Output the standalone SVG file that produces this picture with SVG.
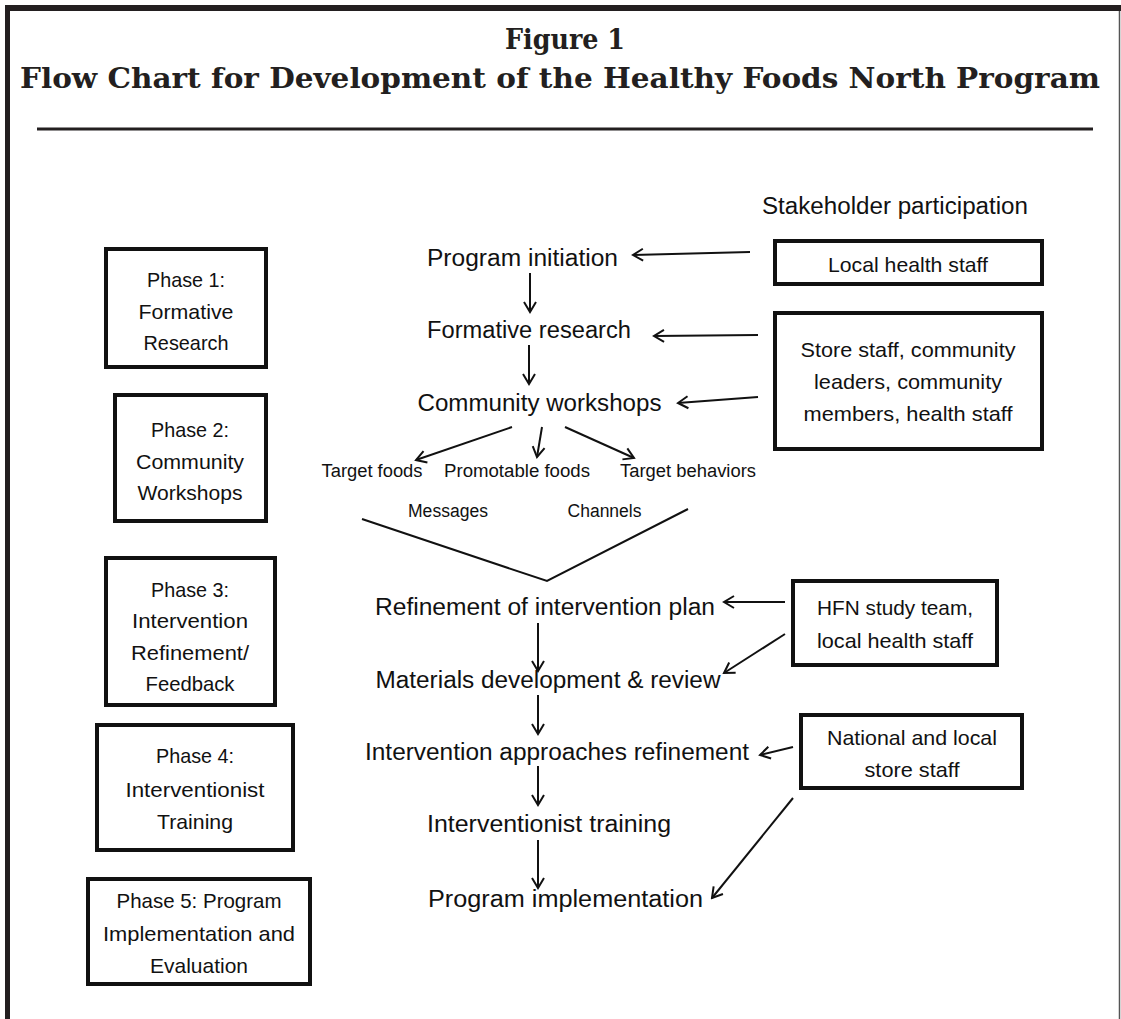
<svg xmlns="http://www.w3.org/2000/svg" width="1121" height="1019" viewBox="0 0 1121 1019">
<style>
  .t { font-family: "Liberation Sans", Arial, sans-serif; fill: #111; text-anchor: middle; }
  .main { font-size: 23px; }
  .ph { font-size: 20.8px; }
  .sm { font-size: 18px; }
  .ttl { font-family: "DejaVu Serif", "Liberation Serif", serif; font-weight: bold; font-size: 27px; fill: #231f20; text-anchor: middle; }
  .box { fill: #fff; stroke: #111; stroke-width: 4; }
  .arr { stroke: #111; stroke-width: 2; fill: none; marker-end: url(#ah); }
  .ln { stroke: #111; stroke-width: 2; fill: none; }
</style>
<defs>
  <marker id="ah" markerUnits="userSpaceOnUse" viewBox="-12 -8 14 16" markerWidth="14" markerHeight="16" refX="0" refY="0" orient="auto">
    <path d="M-10,-6 L0,0 L-10,6" fill="none" stroke="#111" stroke-width="2"/>
  </marker>
</defs>
<rect width="1121" height="1019" fill="#fff"/>
<g id="frame">
  <line x1="5" y1="8" x2="1121" y2="8" stroke="#231f20" stroke-width="6"/>
  <line x1="7.5" y1="5" x2="7.5" y2="1019" stroke="#231f20" stroke-width="5"/>
  <line x1="1119.5" y1="11" x2="1119.5" y2="1019" stroke="#555" stroke-width="1.5"/>
  <line x1="37" y1="129" x2="1093" y2="129" stroke="#231f20" stroke-width="3"/>
</g>
<g id="title">
  <text class="ttl" x="565" y="49" textLength="120" lengthAdjust="spacingAndGlyphs">Figure 1</text>
  <text class="ttl" x="560" y="88" textLength="1080" lengthAdjust="spacingAndGlyphs">Flow Chart for Development of the Healthy Foods North Program</text>
</g>

<g id="phase1">
  <rect class="box" x="106" y="249" width="160" height="118"/>
  <text class="t ph" x="186" y="287" textLength="78" lengthAdjust="spacingAndGlyphs">Phase 1:</text>
  <text class="t ph" x="186" y="318.5" textLength="95" lengthAdjust="spacingAndGlyphs">Formative</text>
  <text class="t ph" x="186" y="350" textLength="85" lengthAdjust="spacingAndGlyphs">Research</text>
</g>
<g id="phase2">
  <rect class="box" x="115" y="395" width="151" height="126"/>
  <text class="t ph" x="190" y="437" textLength="78" lengthAdjust="spacingAndGlyphs">Phase 2:</text>
  <text class="t ph" x="190" y="468.5" textLength="108" lengthAdjust="spacingAndGlyphs">Community</text>
  <text class="t ph" x="190" y="500" textLength="105" lengthAdjust="spacingAndGlyphs">Workshops</text>
</g>
<g id="phase3">
  <rect class="box" x="106" y="558" width="169" height="147"/>
  <text class="t ph" x="190" y="596.5" textLength="78" lengthAdjust="spacingAndGlyphs">Phase 3:</text>
  <text class="t ph" x="190" y="628" textLength="116" lengthAdjust="spacingAndGlyphs">Intervention</text>
  <text class="t ph" x="190" y="659.5" textLength="118" lengthAdjust="spacingAndGlyphs">Refinement/</text>
  <text class="t ph" x="190" y="691" textLength="89" lengthAdjust="spacingAndGlyphs">Feedback</text>
</g>
<g id="phase4">
  <rect class="box" x="97" y="725" width="196" height="125"/>
  <text class="t ph" x="195" y="763" textLength="78" lengthAdjust="spacingAndGlyphs">Phase 4:</text>
  <text class="t ph" x="195" y="796.5" textLength="139" lengthAdjust="spacingAndGlyphs">Interventionist</text>
  <text class="t ph" x="195" y="829" textLength="76" lengthAdjust="spacingAndGlyphs">Training</text>
</g>
<g id="phase5">
  <rect class="box" x="88" y="879" width="222" height="105"/>
  <text class="t ph" x="199" y="908" textLength="165" lengthAdjust="spacingAndGlyphs">Phase 5: Program</text>
  <text class="t ph" x="199" y="941" textLength="192" lengthAdjust="spacingAndGlyphs">Implementation and</text>
  <text class="t ph" x="199" y="973" textLength="98" lengthAdjust="spacingAndGlyphs">Evaluation</text>
</g>

<g id="stakeholder-heading">
  <text class="t main" x="895" y="214" textLength="266" lengthAdjust="spacingAndGlyphs">Stakeholder participation</text>
</g>
<g id="local-health-staff">
  <rect class="box" x="775" y="241" width="267" height="43"/>
  <text class="t ph" x="908" y="272" textLength="160" lengthAdjust="spacingAndGlyphs">Local health staff</text>
</g>
<g id="community-stakeholders">
  <rect class="box" x="775" y="313" width="267" height="136"/>
  <text class="t ph" x="908" y="357" textLength="215" lengthAdjust="spacingAndGlyphs">Store staff, community</text>
  <text class="t ph" x="908" y="389" textLength="188" lengthAdjust="spacingAndGlyphs">leaders, community</text>
  <text class="t ph" x="908" y="421" textLength="209" lengthAdjust="spacingAndGlyphs">members, health staff</text>
</g>
<g id="hfn-team">
  <rect class="box" x="793" y="581" width="204" height="84"/>
  <text class="t ph" x="895" y="615" textLength="156" lengthAdjust="spacingAndGlyphs">HFN study team,</text>
  <text class="t ph" x="895" y="648" textLength="156" lengthAdjust="spacingAndGlyphs">local health staff</text>
</g>
<g id="store-staff">
  <rect class="box" x="801" y="715" width="221" height="73"/>
  <text class="t ph" x="912" y="745" textLength="170" lengthAdjust="spacingAndGlyphs">National and local</text>
  <text class="t ph" x="912" y="777" textLength="95" lengthAdjust="spacingAndGlyphs">store staff</text>
</g>

<g id="program-initiation"><text class="t main" x="522.5" y="266" textLength="191" lengthAdjust="spacingAndGlyphs">Program initiation</text></g>
<g id="formative-research"><text class="t main" x="529" y="338" textLength="204" lengthAdjust="spacingAndGlyphs">Formative research</text></g>
<g id="community-workshops"><text class="t main" x="539.5" y="411" textLength="244" lengthAdjust="spacingAndGlyphs">Community workshops</text></g>
<g id="target-foods"><text class="t sm" x="372" y="477" textLength="101" lengthAdjust="spacingAndGlyphs">Target foods</text></g>
<g id="promotable-foods"><text class="t sm" x="517" y="477" textLength="146" lengthAdjust="spacingAndGlyphs">Promotable foods</text></g>
<g id="target-behaviors"><text class="t sm" x="688" y="477" textLength="136" lengthAdjust="spacingAndGlyphs">Target behaviors</text></g>
<g id="messages"><text class="t sm" x="448" y="517" textLength="80" lengthAdjust="spacingAndGlyphs">Messages</text></g>
<g id="channels"><text class="t sm" x="604.5" y="517" textLength="74" lengthAdjust="spacingAndGlyphs">Channels</text></g>
<g id="refinement-plan"><text class="t main" x="545" y="615" textLength="340" lengthAdjust="spacingAndGlyphs">Refinement of intervention plan</text></g>
<g id="materials-development"><text class="t main" x="548" y="688" textLength="345" lengthAdjust="spacingAndGlyphs">Materials development &amp; review</text></g>
<g id="approaches-refinement"><text class="t main" x="557" y="760" textLength="384" lengthAdjust="spacingAndGlyphs">Intervention approaches refinement</text></g>
<g id="interventionist-training"><text class="t main" x="549" y="832" textLength="244" lengthAdjust="spacingAndGlyphs">Interventionist training</text></g>
<g id="program-implementation"><text class="t main" x="565.5" y="907" textLength="275" lengthAdjust="spacingAndGlyphs">Program implementation</text></g>

<g id="connectors">
  <line class="arr" x1="750" y1="252" x2="633" y2="255"/>
  <line class="arr" x1="758" y1="335" x2="654" y2="336"/>
  <line class="arr" x1="758" y1="397" x2="678" y2="403"/>
  <line class="arr" x1="530" y1="273" x2="530" y2="312"/>
  <line class="arr" x1="529" y1="345" x2="529" y2="384"/>
  <line class="arr" x1="512" y1="427" x2="416" y2="460"/>
  <line class="arr" x1="542" y1="427" x2="537" y2="457"/>
  <line class="arr" x1="565" y1="427" x2="634" y2="458"/>
  <polyline class="ln" points="362,519 547,581 688,509"/>
  <line class="arr" x1="785" y1="602" x2="724" y2="602"/>
  <line class="arr" x1="785" y1="634" x2="724" y2="673"/>
  <line class="arr" x1="538" y1="623" x2="538" y2="671"/>
  <line class="arr" x1="538" y1="695" x2="538" y2="734"/>
  <line class="arr" x1="793" y1="747" x2="760" y2="755"/>
  <line class="arr" x1="538" y1="766" x2="538" y2="805"/>
  <line class="arr" x1="538" y1="840" x2="538" y2="888"/>
  <line class="arr" x1="793" y1="798" x2="712" y2="898"/>
</g>
</svg>
